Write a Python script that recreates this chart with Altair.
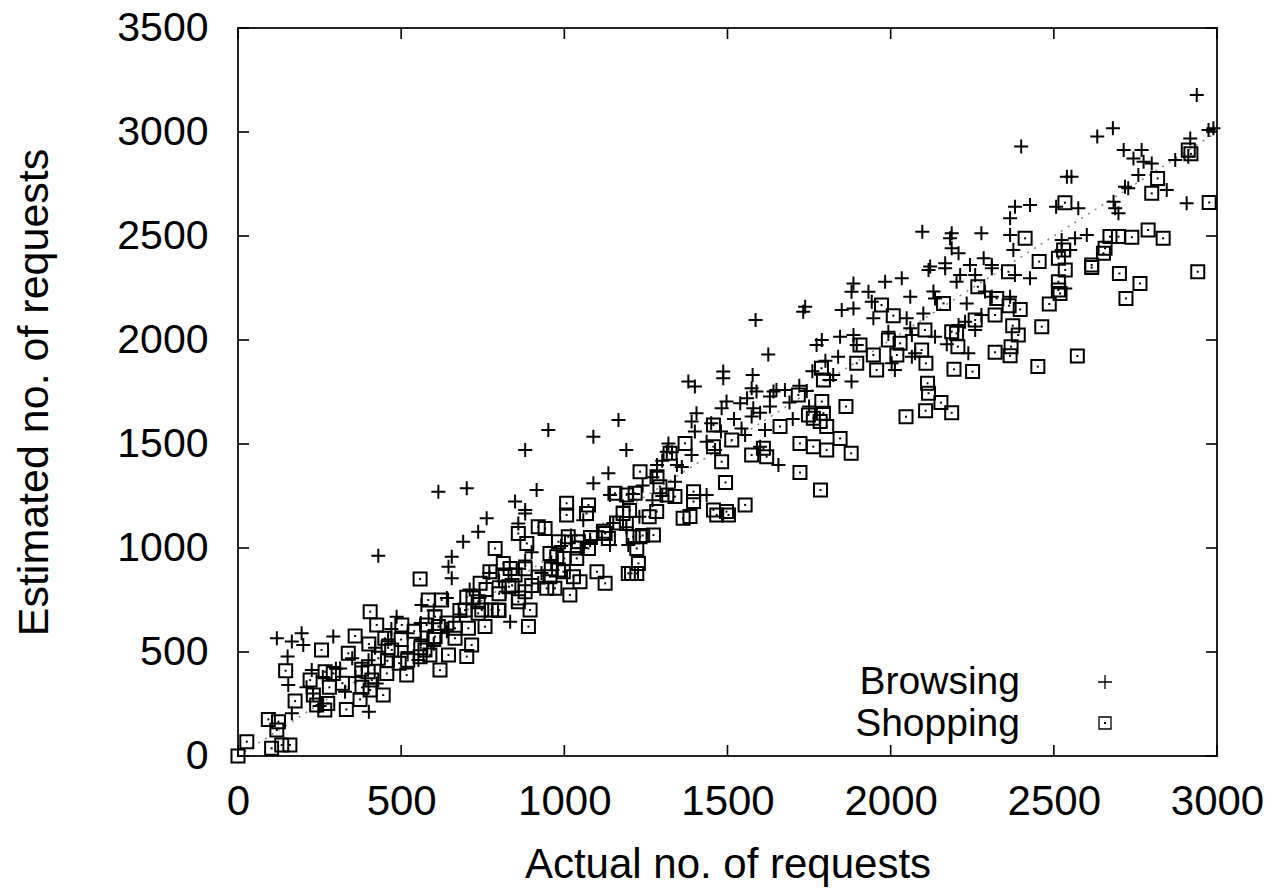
import altair as alt
import pandas as pd

# ---------------- data ----------------
BROWSING_X = [
    2938, 2989, 2974, 2681, 2633, 2400, 2918, 2714, 2769, 2744, 2775, 2800, 2872, 2912, 2759, 2540, 2554,
    2718, 2728, 2846, 2907, 2507, 2575, 2683, 2688, 2698, 2381, 2427, 2366, 2097, 2187, 2182, 2187, 2208,
    2278, 2366, 2524, 2565, 2601, 2376, 2524, 2550, 2285, 2310, 2167, 2121, 2243,
    2034, 2116, 2167, 2213, 2202, 2259, 2310, 2381, 2427, 2535, 2060, 2131, 2136, 2233, 2289, 2310, 2366,
    2100, 2049, 1983, 2278, 2228, 2208, 2259, 2060, 2065, 2136, 2172, 2238, 2075, 2065, 2003, 2013, 1993,
    1886, 1880, 1886, 1850, 1932, 1942, 1947, 1738, 1732, 1586, 1789, 1773, 1845, 1886, 1896, 1839, 1625,
    1487, 1487, 1380, 1400, 1577, 1574, 1589, 1641, 1676, 1743, 1630, 1824, 1814, 1880, 1497, 1539, 1482,
    1579, 1574, 1630, 1405, 1390, 1615, 1166, 1089, 1190, 1135, 1089, 1656, 1319, 1314, 1345, 1390, 1436,
    1462, 1543, 1554, 1284, 1284, 1339, 1416, 1436, 1140, 1600,
    951, 880, 614, 701, 915, 849, 880,
    430, 762, 736, 690, 655, 645, 655, 859, 880, 119, 165, 195, 200, 292, 152, 154, 313, 328, 401, 425,
    486, 553, 834, 562, 226, 165,
    1058, 1140, 1196, 1079,
    520, 560, 600, 640, 680, 710, 740, 770, 800, 820, 860, 880, 900, 930, 960, 990, 1020, 1050, 1100,
    1150, 1180, 1210, 1240, 1270, 1300, 1330, 1360, 1270, 1230, 1190, 1300, 230, 260, 300, 350, 380, 420,
    460, 470, 520, 560, 600, 640, 250, 210, 360, 400, 1400, 1450, 1480, 1520, 1560, 1600, 1650, 1690,
    1720, 1760, 1800, 1700, 1750,
]
BROWSING_Y = [
    3178, 3018, 3010, 3018, 2978, 2930, 2969, 2913, 2913, 2873, 2857, 2849, 2865, 2881, 2793, 2785, 2785,
    2737, 2729, 2721, 2657, 2641, 2633, 2665, 2633, 2609, 2641, 2649, 2585, 2521, 2513, 2489, 2441, 2417,
    2513, 2505, 2481, 2489, 2505, 2433, 2433, 2433, 2393, 2361, 2369, 2353, 2361,
    2297, 2337, 2345, 2313, 2280, 2313, 2345, 2313, 2297, 2248, 2208, 2233, 2200, 2176, 2233, 2208, 2208,
    2128, 2104, 2280, 2120, 2088, 2072, 2048, 2056, 2024, 2016, 1979, 1936, 1936, 1920, 1888, 1856, 2040,
    2272, 2232, 2152, 2144, 2232, 2184, 2104, 2160, 2136, 2096, 2000, 1976, 2016, 2024, 1976, 1920, 1930,
    1848, 1816, 1800, 1776, 1832, 1768, 1752, 1752, 1760, 1755, 1728, 1832, 1808, 1800, 1704, 1696, 1672,
    1672, 1632, 1680, 1648, 1608, 1567, 1615, 1535, 1471, 1359, 1311, 1399, 1503, 1463, 1399, 1447, 1511,
    1471, 1575, 1543, 1399, 1367, 1319, 1255, 1255, 1255, 1487,
    1567, 1471, 1271, 1287, 1279, 1223, 1183,
    963, 1143, 1078, 1030, 958, 910, 854, 1118, 1166, 566, 550, 590, 534, 574, 478, 341, 421, 309, 213, 349,
    670, 462, 646, 726, 413, 205,
    1134, 1014, 1014, 1038,
    590, 640, 700, 760, 680, 800, 760, 880, 840, 790, 900, 940, 980, 880, 930, 1010, 1060, 1000, 1080,
    1120, 1200, 1260, 1300, 1340, 1420, 1460, 1390, 1230, 1150, 1100, 1250, 300, 380, 420, 470, 430, 520,
    560, 610, 500, 560, 540, 600, 240, 330, 380, 460, 1560, 1600, 1560, 1620, 1720, 1650, 1760, 1700,
    1780, 1850, 1900, 1620, 1680,
]
SHOPPING_X = [
    2912, 2920, 2818, 2800, 2976, 2534, 2412, 2672, 2698, 2739, 2789, 2835, 2657, 2652, 2530, 2514, 2455, 2616,
    2361, 2535, 2616, 2701, 2764, 2721, 2941, 2514, 2514, 2519, 2486, 2267, 2325, 2363, 2397, 2320, 2259,
    2162, 2008, 2105, 2187, 2202, 2206, 2095, 2108, 2019, 2029, 1993, 2194, 2251, 2374, 2391, 2369, 2366,
    2320, 2463, 2451, 2572, 2113, 2116, 2154, 2107, 2187, 2047,
    1972, 1906, 1947, 1896, 1957, 1788, 1794, 1717, 1789, 1863, 1748, 1763, 1794, 1784, 1804, 1661, 1845,
    1722, 1763, 1804, 1879, 1722, 1785, 1457, 1457, 1513, 1574, 1610, 1620, 1482, 1494, 1554, 1370, 1324,
    1232, 1284, 1293, 1155, 1191, 1217, 1314, 1339, 1396, 1396, 1007, 1074, 1457, 1497,
    558, 405, 425, 359, 401, 450, 471, 256, 338, 146, 221, 267, 292, 379, 399, 410, 458, 456, 494, 517,
    445, 374, 405, 175, 231, 241, 275, 266, 332, 93, 124, 119, 27, 103, 134, 159, 0, 502, 573, 558, 588,
    583, 624, 604, 578, 701, 696, 747, 736, 665, 706, 665, 716, 701, 645, 619, 614, 604, 757, 736, 777,
    798, 772, 788, 813, 834, 885, 859, 920, 941, 742, 890, 895, 880, 859, 830, 818, 849, 946, 971, 956,
    982, 977, 956, 982,
    1007, 1068, 1180, 1190, 1283, 1364, 1385, 1467, 1503, 1012, 1043, 1074, 1125, 1135, 1211, 1232, 1273,
    1222, 1038, 997, 1028, 1048, 1100, 1125, 1227, 1206, 1017, 1196, 1222,
    600, 640, 680, 720, 760, 800, 840, 880, 920, 960, 1000, 1040, 1080, 1120, 1160, 1200, 1240, 1260,
    280, 320, 500, 540, 560, 460, 520, 380, 430, 800, 860, 900,
]
SHOPPING_Y = [
    2913, 2895, 2777, 2705, 2661, 2660, 2489, 2497, 2497, 2494, 2529, 2489, 2441, 2417, 2433, 2393, 2377, 2361,
    2328, 2337, 2348, 2320, 2272, 2200, 2328, 2280, 2240, 2224, 2173, 2256, 2200, 2165, 2147, 2120, 2096,
    2176, 2117, 2048, 2040, 2032, 1968, 1952, 1888, 1928, 1984, 2000, 1859, 1848, 2069, 2024, 1968, 1924,
    1941, 2064, 1872, 1923, 1792, 1744, 1699, 1660, 1650, 1631,
    2168, 1976, 1928, 1888, 1856, 1864, 1808, 1736, 1704, 1680, 1640, 1624, 1648, 1608, 1584, 1584, 1527,
    1503, 1487, 1471, 1455, 1363, 1279, 1591, 1487, 1519, 1447, 1479, 1439, 1415, 1315, 1207, 1503, 1455,
    1367, 1343, 1295, 1263, 1255, 1263, 1255, 1247, 1271, 1223, 1215, 1207, 1183, 1175,
    851, 694, 630, 577, 538, 566, 510, 510, 494, 410, 365, 405, 397, 417, 405, 365, 458, 397, 446, 389,
    293, 272, 317, 264, 293, 245, 253, 221, 224, 176, 165, 125, 69, 37, 53, 53, 0, 630, 510, 477, 486,
    750, 750, 670, 630, 763, 702, 702, 742, 614, 614, 566, 534, 478, 486, 413, 622, 574, 622, 686, 702,
    702, 886, 998, 926, 902, 1022, 1070, 1102, 1094, 830, 622, 702, 790, 742, 814, 870, 870, 806, 806, 862,
    894, 958, 974, 1030,
    1159, 1166, 1166, 1118, 1175, 1143, 1151, 1159, 1159, 1054, 1030, 998, 1070, 1046, 1054, 1054, 1062,
    998, 950, 886, 862, 838, 886, 830, 926, 878, 774, 878, 878,
    560, 640, 700, 760, 800, 780, 820, 900, 860, 900, 950, 1000, 1050, 1080, 1120, 1180, 1060, 1150,
    330, 350, 560, 600, 520, 520, 460, 330, 470, 700, 760, 820,
]
DIAG = [0, 3000]
X_TICKS = [0, 500, 1000, 1500, 2000, 2500, 3000]
Y_TICKS = [0, 500, 1000, 1500, 2000, 2500, 3000, 3500]
LEGEND_LABELS = ["Browsing", "Shopping"]

# ---------------- styling ----------------
W, H = 979, 728
FONT = "Liberation Sans, Arial, Helvetica, sans-serif"
PLUS = "M-1,0L1,0M0,-1L0,1"
TICK = 11

browsing = pd.DataFrame({"x": BROWSING_X, "y": BROWSING_Y})
shopping = pd.DataFrame({"x": SHOPPING_X, "y": SHOPPING_Y})
diag = pd.DataFrame({"x": DIAG, "y": DIAG})
xt = pd.DataFrame({"x": X_TICKS})
yt = pd.DataFrame({"y": Y_TICKS})

xs = alt.Scale(domain=[0, 3000], nice=False, zero=False)
ys = alt.Scale(domain=[0, 3500], nice=False, zero=False)

x_axis = alt.Axis(
    values=X_TICKS, format="d", ticks=False, domain=False, grid=False,
    labelFont=FONT, labelFontSize=42, labelColor="black", labelPadding=25,
    labelFlush=False, labelOverlap=False,
    title="Actual no. of requests", titleFont=FONT, titleFontSize=42,
    titleFontWeight="normal", titleColor="black",
    titleX=W / 2, titleY=121, titleBaseline="alphabetic",
)
y_axis = alt.Axis(
    values=Y_TICKS, format="d", ticks=False, domain=False, grid=False,
    labelFont=FONT, labelFontSize=41, labelColor="black", labelPadding=30,
    labelFlush=False, labelOverlap=False,
    title="Estimated no. of requests", titleFont=FONT, titleFontSize=43,
    titleFontWeight="normal", titleColor="black", titleAngle=270,
    titleX=-191, titleY=H / 2, titleBaseline="alphabetic",
)
X = alt.X("x:Q", scale=xs, axis=x_axis)
Y = alt.Y("y:Q", scale=ys, axis=y_axis)

diag_line = alt.Chart(diag).mark_line(
    color="#8a8a8a", strokeWidth=1.6, strokeDash=[2, 6]
).encode(x=X, y=Y)

b_pts = alt.Chart(browsing).mark_point(
    shape=PLUS, size=196, filled=False, color="black", strokeWidth=2, opacity=1
).encode(x=X, y=Y)

s_pts = alt.Chart(shopping).mark_point(
    shape="square", size=169, filled=False, color="black", strokeWidth=2, opacity=1
).encode(x=X, y=Y)

s_dots = alt.Chart(shopping).mark_point(
    shape="square", size=4, filled=True, color="black", opacity=1
).encode(x=X, y=Y)

tick_style = dict(color="black", strokeWidth=1.6)
xt_bottom = alt.Chart(xt).mark_rule(**tick_style).encode(x=X, y=alt.value(H), y2=alt.value(H - TICK))
xt_top = alt.Chart(xt).mark_rule(**tick_style).encode(x=X, y=alt.value(0), y2=alt.value(TICK))
yt_left = alt.Chart(yt).mark_rule(**tick_style).encode(y=Y, x=alt.value(0), x2=alt.value(TICK))
yt_right = alt.Chart(yt).mark_rule(**tick_style).encode(y=Y, x=alt.value(W), x2=alt.value(W - TICK))

# manual legend (label on the left, symbol on the right, as in the reference)
leg_b = pd.DataFrame({"label": [LEGEND_LABELS[0]]})
leg_s = pd.DataFrame({"label": [LEGEND_LABELS[1]]})
txt_style = dict(align="right", baseline="alphabetic", font=FONT, fontSize=39, color="black")
leg_b_txt = alt.Chart(leg_b).mark_text(**txt_style).encode(
    text="label:N", x=alt.value(782), y=alt.value(666))
leg_s_txt = alt.Chart(leg_s).mark_text(**txt_style).encode(
    text="label:N", x=alt.value(782), y=alt.value(708))
leg_b_sym = alt.Chart(leg_b).mark_point(
    shape=PLUS, size=196, filled=False, color="black", strokeWidth=1.3, opacity=1
).encode(x=alt.value(867), y=alt.value(654))
leg_s_sym = alt.Chart(leg_s).mark_point(
    shape="square", size=144, filled=False, color="black", strokeWidth=1.3, opacity=1
).encode(x=alt.value(867), y=alt.value(695))
leg_s_dot = alt.Chart(leg_s).mark_point(
    shape="square", size=4, filled=True, color="black", opacity=1
).encode(x=alt.value(867), y=alt.value(695))

chart = alt.layer(
    diag_line, b_pts, s_pts, s_dots,
    xt_bottom, xt_top, yt_left, yt_right,
    leg_b_txt, leg_s_txt, leg_b_sym, leg_s_sym, leg_s_dot,
).properties(
    width=W, height=H,
    autosize=alt.AutoSizeParams(type="none"),
    padding={"left": 238, "top": 28, "right": 58, "bottom": 132},
    background="white",
).configure_view(stroke="#222222", strokeWidth=2)

chart.save("out.html", embed_options={"renderer": "svg", "actions": False})
